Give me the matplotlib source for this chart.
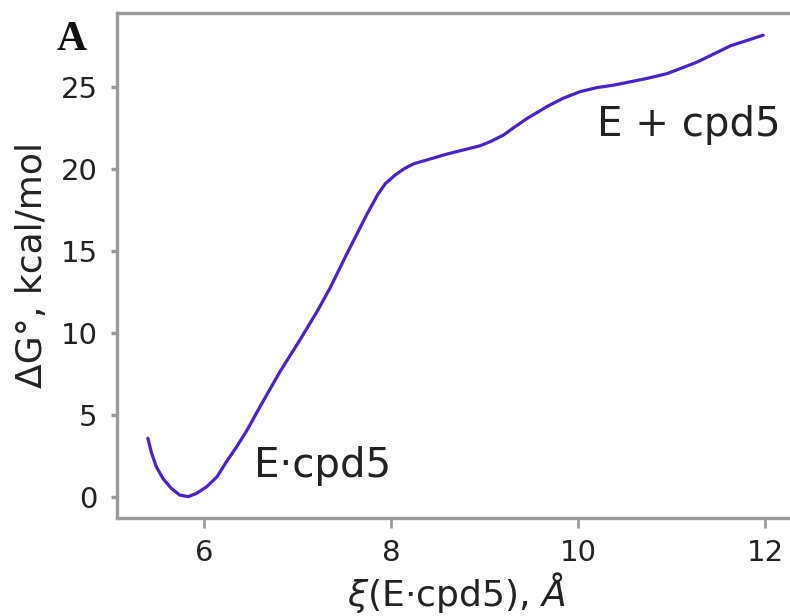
import matplotlib
matplotlib.use("Agg")
import matplotlib.pyplot as plt

xi = [5.40, 5.44, 5.49, 5.56, 5.65, 5.74, 5.83, 5.92, 6.03, 6.14, 6.24, 6.35, 6.47,
      6.60, 6.71, 6.81, 7.03, 7.21, 7.35, 7.53, 7.74, 7.86, 7.94, 8.04, 8.14, 8.24,
      8.60, 8.95, 9.06, 9.20, 9.31, 9.45, 9.67, 9.84, 10.02, 10.20, 10.38, 10.73,
      10.95, 11.27, 11.45, 11.63, 11.98]
dG = [3.56, 2.65, 1.83, 1.12, 0.51, 0.10, 0.00, 0.20, 0.61, 1.22, 2.13, 3.05, 4.15,
      5.5, 6.6, 7.6, 9.6, 11.3, 12.75, 14.84, 17.2, 18.45, 19.1, 19.6, 20.0, 20.3,
      20.9, 21.4, 21.65, 22.05, 22.5, 23.05, 23.8, 24.3, 24.7, 24.95, 25.1, 25.5,
      25.8, 26.5, 27.0, 27.5, 28.15]
xticks = [6, 8, 10, 12]
yticks = [0, 5, 10, 15, 20, 25]

W, H = 790, 616
fig = plt.figure(figsize=(W / 100, H / 100), dpi=100)
ax = fig.add_axes([117 / W, 1 - 518 / H, (796 - 117) / W, (518 - 13) / H])

ax.plot(xi, dG, color="#4B22C8", lw=2.3, solid_capstyle="round", solid_joinstyle="round")
ax.set_xlim(5.07, 12.33)
ax.set_ylim(-1.3, 29.5)
ax.set_xticks(xticks)
ax.set_yticks(yticks)

gray = "#9a9a9a"
for s in ax.spines.values():
    s.set_color(gray)
    s.set_linewidth(2.4)
ax.tick_params(axis="x", colors=gray, length=7, width=2, pad=8, labelsize=21, labelcolor="#222222")
ax.tick_params(axis="y", colors=gray, length=4, width=2.5, pad=10, labelsize=21, labelcolor="#222222")

ax.set_xlabel(r"$\xi$(E·cpd5), $\mathit{Å}$", fontsize=26, color="#222222", labelpad=2)
ax.set_ylabel("ΔG°, kcal/mol", fontsize=26, color="#222222", labelpad=8)

ax.text(6.53, 1.2, "E·cpd5", fontsize=29, color="#222222")
ax.text(10.2, 22.0, "E + cpd5", fontsize=29, color="#222222")

fig.text(57 / W, 1 - 50 / H, "A", fontsize=30, fontweight="bold",
         family="Liberation Serif", color="#111111")

fig.savefig("out.png", dpi=100)
